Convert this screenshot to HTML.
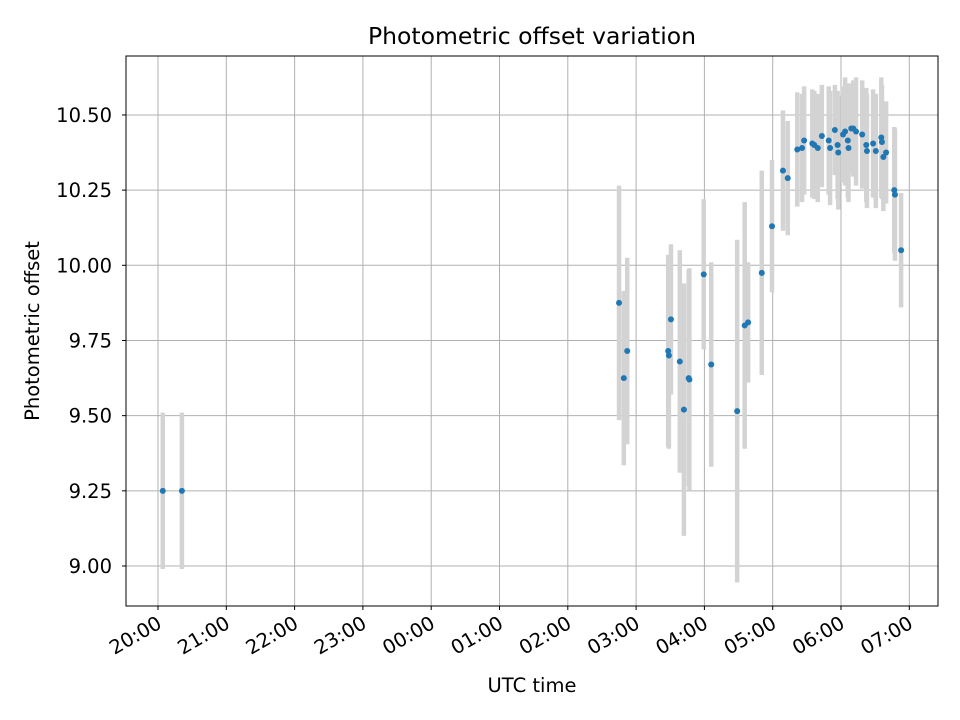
<!DOCTYPE html>
<html><head><meta charset="utf-8"><style>
body{margin:0;background:#fff}
svg{display:block;font-family:"DejaVu Sans","Liberation Sans",sans-serif}
</style></head><body>
<svg id="chart" width="960" height="720" xmlns="http://www.w3.org/2000/svg">
<text x="532" y="44" font-size="23.5" text-anchor="middle">Photometric offset variation</text>
<g id="grid"></g>
<g id="bars"></g>
<g id="pts"></g>
<rect x="126" y="56" width="812" height="550" fill="none" stroke="#000" stroke-width="1"/>
<g id="ticks"></g>
<text x="532" y="692" font-size="19.5" text-anchor="middle">UTC time</text>
<text transform="translate(39,331) rotate(-90)" font-size="19.5" text-anchor="middle">Photometric offset</text>
</svg>
<script>
// hours since 20:00
const times=[0.07,0.35,6.75,6.82,6.87,7.47,7.48,7.51,7.64,7.70,7.77,7.78,7.99,8.10,8.48,8.59,8.64,8.84,8.99,9.15,9.22,9.36,9.43,9.46,9.58,9.61,9.66,9.72,9.82,9.84,9.91,9.95,9.96,10.03,10.06,10.10,10.11,10.15,10.18,10.22,10.31,10.37,10.38,10.47,10.51,10.59,10.60,10.62,10.66,10.78,10.79,10.88];
const offsets=[9.25,9.25,9.875,9.625,9.715,9.715,9.70,9.82,9.68,9.52,9.625,9.62,9.97,9.67,9.515,9.80,9.81,9.975,10.13,10.315,10.29,10.385,10.39,10.415,10.405,10.40,10.39,10.43,10.415,10.39,10.45,10.40,10.375,10.435,10.445,10.415,10.39,10.455,10.455,10.445,10.435,10.40,10.38,10.405,10.38,10.425,10.41,10.36,10.375,10.25,10.235,10.05];
const errors=[0.26,0.26,0.39,0.29,0.31,0.32,0.31,0.25,0.37,0.42,0.36,0.37,0.25,0.34,0.57,0.41,0.2,0.34,0.22,0.2,0.19,0.19,0.18,0.18,0.18,0.18,0.18,0.17,0.18,0.19,0.15,0.18,0.19,0.16,0.18,0.19,0.18,0.15,0.16,0.18,0.18,0.19,0.19,0.18,0.19,0.2,0.19,0.18,0.17,0.21,0.22,0.19];
const xTickLabels=["20:00","21:00","22:00","23:00","00:00","01:00","02:00","03:00","04:00","05:00","06:00","07:00"];
const yTickValues=[9.00,9.25,9.50,9.75,10.00,10.25,10.50];
const NS="http://www.w3.org/2000/svg";
const X=h=>158+h*68.3;
const Y=v=>566-(v-9.0)*300.7;
function mk(t,a,p){const e=document.createElementNS(NS,t);for(const k in a)e.setAttribute(k,a[k]);p.appendChild(e);return e;}
const grid=document.getElementById('grid'),ticks=document.getElementById('ticks');
xTickLabels.forEach((l,i)=>{const x=X(i);
 const g=mk('line',{x1:x,x2:x,y1:56,y2:606,stroke:'#b0b0b0','stroke-width':1},grid);
 
 const t=mk('line',{x1:x,x2:x,y1:606,y2:610,stroke:'#000'},ticks);
 
 const ax=x+5, ay=627;
 const tx=mk('text',{x:ax,y:ay,'font-size':19.5,'text-anchor':'end',transform:`rotate(-30 ${ax} ${ay})`},ticks);
 tx.textContent=l;
 
});
yTickValues.forEach(v=>{const y=Y(v);
 const g=mk('line',{x1:126,x2:938,y1:y,y2:y,stroke:'#b0b0b0','stroke-width':1},grid);
 
 const t=mk('line',{x1:122,x2:126,y1:y,y2:y,stroke:'#000'},ticks);
 
 const tx=mk('text',{x:112,y:y+7,'font-size':19.5,'text-anchor':'end'},ticks);
 tx.textContent=v.toFixed(2);
 
});
const bars=document.getElementById('bars'),pts=document.getElementById('pts');
times.forEach((h,i)=>{
 const b=mk('line',{x1:X(h),x2:X(h),y1:Y(offsets[i]-errors[i]),y2:Y(offsets[i]+errors[i]),stroke:'#d3d3d3','stroke-width':4.5},bars);
 
 const c=mk('circle',{cx:X(h),cy:Y(offsets[i]),r:3,fill:'#1f77b4'},pts);
 
});
</script>
</body></html>
